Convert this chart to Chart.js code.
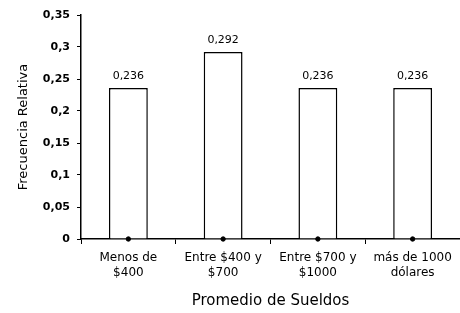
<!DOCTYPE html>
<html>
<head>
<meta charset="utf-8">
<script src="https://cdn.jsdelivr.net/npm/chart.js@4/dist/chart.umd.min.js"></script>
<style>
  html, body { margin: 0; padding: 0; background: #fff; }
  #chart { display: block; }
</style>
</head>
<body>
<canvas id="chart" width="460" height="313"></canvas>
<script>
// ===== Data =====
const categories = [["Menos de", "$400"], ["Entre $400 y", "$700"], ["Entre $700 y", "$1000"], ["más de 1000", "dólares"]];
const frecuencias = [0.236, 0.292, 0.236, 0.236];
const puntos = [0, 0, 0, 0];
const yTicks = [0, 0.05, 0.1, 0.15, 0.2, 0.25, 0.3, 0.35];

const FONT = "'DejaVu Sans', 'Liberation Sans', Arial, sans-serif";

function comma(v, digits) {
    return (Math.round(v * Math.pow(10, digits)) / Math.pow(10, digits)).toString().replace(".", ",");
}

// ===== Value labels above bars =====
const barLabels = {
    id: "barLabels",
    afterDatasetsDraw(chart) {
        const ctx = chart.ctx;
        const meta = chart.getDatasetMeta(0);
        ctx.save();
        ctx.font = "11px " + FONT;
        ctx.fillStyle = "#000";
        ctx.textAlign = "center";
        ctx.textBaseline = "bottom";
        meta.data.forEach((bar, i) => {
            ctx.fillText(comma(frecuencias[i], 3), bar.x, bar.y - 6);
        });
        ctx.restore();
    }
};

new Chart(document.getElementById("chart"), {
    type: "bar",
    data: {
        labels: categories,
        datasets: [
            {
                data: frecuencias,
                backgroundColor: "#fff",
                borderColor: "#000",
                borderWidth: 1.5,
                barPercentage: 0.41,
                categoryPercentage: 1,
                order: 2
            },
            {
                type: "line",
                data: puntos,
                showLine: false,
                pointRadius: 2.2,
                pointBackgroundColor: "#000",
                pointBorderColor: "#000",
                clip: false,
                order: 1
            }
        ]
    },
    options: {
        responsive: false,
        animation: false,
        layout: { autoPadding: false, padding: { top: 15, right: -3, left: 0, bottom: 0 } },
        plugins: {
            legend: { display: false },
            tooltip: { enabled: false }
        },
        scales: {
            x: {
                grid: { display: true, drawOnChartArea: false, offset: true, tickLength: 5, color: "#000" },
                border: { display: true, color: "#000", width: 1.5 },
                ticks: {
                    color: "#000",
                    font: { family: FONT, size: 12, lineHeight: 1.25 },
                    padding: 6,
                    maxRotation: 0,
                    autoSkip: false
                },
                title: {
                    display: true,
                    text: "Promedio de Sueldos",
                    color: "#000",
                    font: { family: FONT, size: 15 },
                    padding: { top: 0, bottom: 3 }
                },
                afterFit(scale) {
                    scale.height = 74;
                    scale.paddingLeft = 0;
                    scale.paddingRight = 0;
                }
            },
            y: {
                min: 0,
                max: 0.35,
                afterBuildTicks(scale) { scale.ticks = yTicks.map(v => ({ value: v })); },
                grid: { display: true, drawOnChartArea: false, tickLength: 4, color: "#000" },
                border: { display: true, color: "#000", width: 1.5 },
                ticks: {
                    color: "#000",
                    font: { family: FONT, size: 11, weight: "bold" },
                    padding: 7,
                    callback: (v) => comma(v, 2)
                },
                title: {
                    display: true,
                    text: "Frecuencia Relativa",
                    color: "#000",
                    font: { family: FONT, size: 13 },
                    padding: { top: 16, bottom: 0 }
                },
                afterFit(scale) { scale.width = 81; }
            }
        }
    },
    plugins: [barLabels]
});
</script>
</body>
</html>
